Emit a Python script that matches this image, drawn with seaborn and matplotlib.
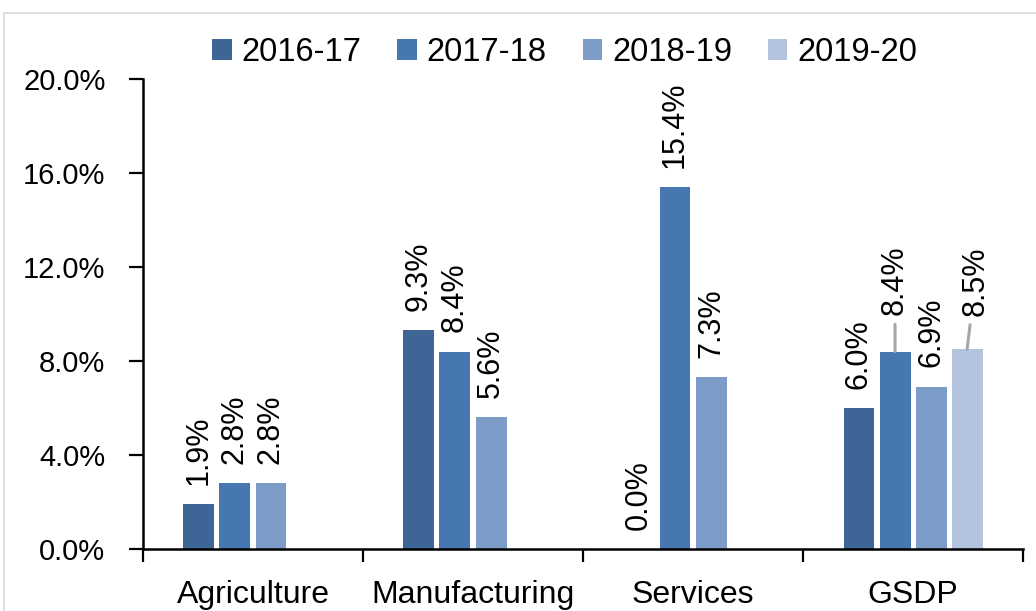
import numpy as np
import pandas as pd
import matplotlib
matplotlib.use("Agg")
import matplotlib.pyplot as plt
from matplotlib.patches import Rectangle
from matplotlib.ticker import FuncFormatter, FixedLocator
import seaborn as sns

categories = ["Agriculture", "Manufacturing", "Services", "GSDP"]
years = ["2016-17", "2017-18", "2018-19", "2019-20"]
v_2016_17 = [1.9, 9.3, 0.0, 6.0]
v_2017_18 = [2.8, 8.4, 15.4, 8.4]
v_2018_19 = [2.8, 5.6, 7.3, 6.9]
v_2019_20 = [np.nan, np.nan, np.nan, 8.5]
colors = ["#3D6596", "#4777B0", "#7E9CC8", "#B4C4DF"]
yticks = [0, 4, 8, 12, 16, 20]

series = [v_2016_17, v_2017_18, v_2018_19, v_2019_20]
rows = []
for yr, vals in zip(years, series):
    for c, v in zip(categories, vals):
        rows.append({"Sector": c, "Year": yr, "Growth": v})
df = pd.DataFrame(rows)

sns.set_theme(style="white")
plt.rcParams["font.family"] = ["Liberation Sans", "DejaVu Sans"]
plt.rcParams["text.color"] = "black"
plt.rcParams["xtick.labelcolor"] = "black"
plt.rcParams["ytick.labelcolor"] = "black"

fig = plt.figure(figsize=(10.36, 6.11), dpi=100)
ax = fig.add_axes([0.138, 0.1015, 0.8495, 0.7692])

sns.barplot(data=df.dropna(), x="Sector", y="Growth", hue="Year",
            order=categories, hue_order=years, palette=colors,
            width=0.655, gap=0.14, dodge=True, ax=ax, legend=True,
            edgecolor="none", linewidth=0, saturation=1)

ax.set_xlim(-0.5, 3.5)
ax.set_ylim(0, 20)
ax.set_xlabel("")
ax.set_ylabel("")

# label offsets (points) and leader lines per (year index, category index)
special = {(1, 3): (0, 26), (3, 3): (6, 24)}
step = 0.655 / 4
for i, vals in enumerate(series):
    for j, v in enumerate(vals):
        if np.isnan(v):
            continue
        xc = j - 0.655 / 2 + step * (i + 0.5)
        dx, dy, lead = 0, 14, False
        if (i, j) in special:
            dx, dy = special[(i, j)]
            lead = True
        ax.annotate(f"{v:.1f}%", xy=(xc, v), xytext=(dx, dy),
                    textcoords="offset points", rotation=90,
                    ha="center", va="bottom", fontsize=22,
                    family=["Liberation Sans Narrow", "Liberation Sans", "DejaVu Sans"],
                    color="#000000",
                    arrowprops=(dict(arrowstyle="-", color="#A6A6A6", lw=2.2,
                                     shrinkA=4, shrinkB=0) if lead else None))

# y axis
ax.yaxis.set_major_locator(FixedLocator(yticks))
ax.yaxis.set_major_formatter(FuncFormatter(lambda v, p: f"{v:.1f}%"))
ax.tick_params(axis="y", which="major", direction="out", length=10, width=1.6,
               labelsize=21, pad=17, color="black", labelcolor="black", left=True)

# x axis: ticks at category boundaries, labels at centres
ax.xaxis.set_major_locator(FixedLocator([-0.5, 0.5, 1.5, 2.5, 3.5]))
ax.xaxis.set_minor_locator(FixedLocator([0, 1, 2, 3]))
ax.set_xticklabels([], minor=False)
ax.set_xticklabels(categories, minor=True)
ax.tick_params(axis="x", which="major", direction="out", length=9, width=1.6,
               color="black", bottom=True)
ax.tick_params(axis="x", which="minor", length=0, labelsize=23, pad=22,
               labelcolor="black", bottom=True)

for s in ["top", "right"]:
    ax.spines[s].set_visible(False)
for s in ["left", "bottom"]:
    ax.spines[s].set_color("black")
    ax.spines[s].set_linewidth(1.8)

# legend
handles, labels = ax.get_legend_handles_labels()
ax.get_legend().remove()
leg = fig.legend(handles, labels, loc="center", bbox_to_anchor=(0.545, 0.914),
                 ncol=4, frameon=False, fontsize=23.5, handlelength=0.6,
                 handleheight=0.6, handletextpad=0.3, columnspacing=1.1,
                 borderaxespad=0)
for t in leg.get_texts():
    t.set_color("black")

# outer light border of the chart area
fig.patches.append(Rectangle((0.004, -0.02), 1.2, 0.999, transform=fig.transFigure,
                             fill=False, edgecolor="#D9D9D9", lw=1.2))

fig.savefig("out.png", dpi=100)
